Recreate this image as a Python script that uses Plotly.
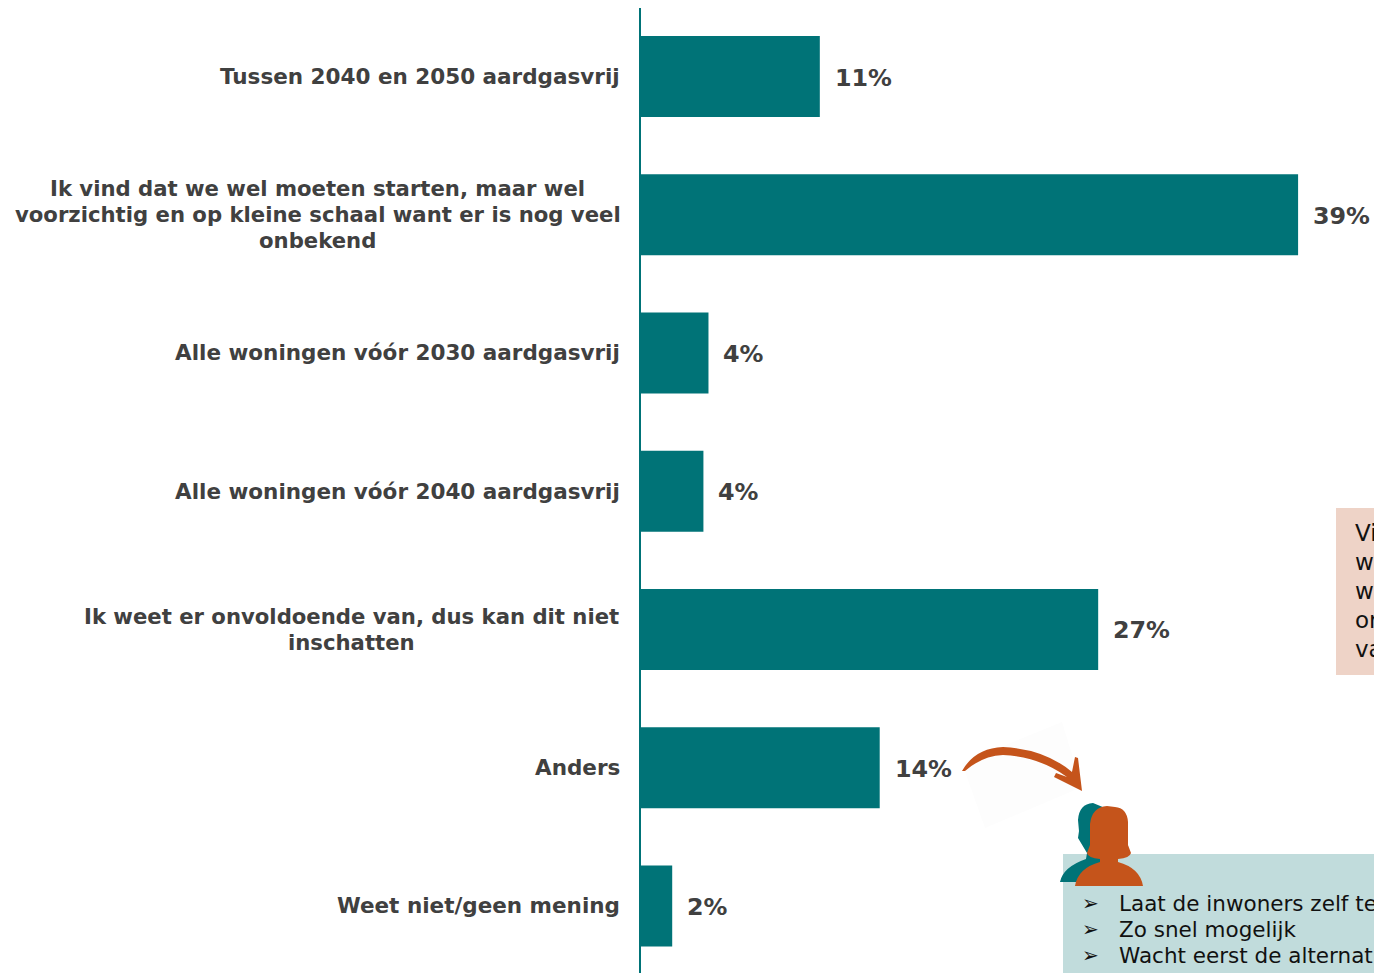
import plotly.graph_objects as go

categories = [
    "Tussen 2040 en 2050 aardgasvrij",
    "Ik vind dat we wel moeten starten, maar wel<br>voorzichtig en op kleine schaal want er is nog veel<br>onbekend",
    "Alle woningen vóór 2030 aardgasvrij",
    "Alle woningen vóór 2040 aardgasvrij",
    "Ik weet er onvoldoende van, dus kan dit niet<br>inschatten",
    "Anders",
    "Weet niet/geen mening",
]
values = [10.6, 38.95, 4.0, 3.7, 27.1, 14.15, 1.85]
value_labels = ["11%", "39%", "4%", "4%", "27%", "14%", "2%"]
pink_lines = ["Vi", "w", "w", "or", "va"]
teal_lines = ["Laat de inwoners zelf te", "Zo snel mogelijk", "Wacht eerst de alternati"]

W, H = 1374, 973
L, T = 641, 8
TEAL, ORANGE, GREY = "#007377", "#C5541B", "#404040"
FONT = "DejaVu Sans"
LABEL_SIZE = 21.5
MULTI_SIZE = 21.2
VALUE_SIZE = 23.8
LINE_GAP = 26
BLOCK_CENTRE = {1: 317.5, 4: 351.5}  # horizontal centre of the wrapped label blocks


def px(x):
    return (x - L) / (W - L)


def py(y):
    return 1 - (y - T) / (H - T)


def path(cmds):
    out = []
    for c in cmds:
        if isinstance(c, str):
            out.append(c)
        else:
            out.append(f"{px(c[0]):.5f},{py(c[1]):.5f}")
    return " ".join(out).replace("M ", "M").replace("L ", "L").replace("Q ", "Q").replace("C ", "C")


fig = go.Figure(go.Bar(
    x=values, y=list(range(len(categories))), orientation="h",
    marker=dict(color=TEAL, line=dict(width=0)), hoverinfo="skip",
))

ann = []
for i, (c, v, lab) in enumerate(zip(categories, values, value_labels)):
    lines = c.split("<br>")
    for j, line in enumerate(lines):
        wrapped = len(lines) > 1
        ann.append(dict(x=0, y=i, xref="x", yref="y", text=f"<b>{line}</b>", showarrow=False,
                        xanchor="center" if wrapped else "right",
                        xshift=(BLOCK_CENTRE[i] - L) if wrapped else -19,
                        yshift=((len(lines) - 1) / 2 - j) * LINE_GAP,
                        font=dict(family=FONT, size=MULTI_SIZE if wrapped else LABEL_SIZE, color=GREY)))
    ann.append(dict(x=v, y=i, xref="x", yref="y", text=f"<b>{lab}</b>", showarrow=False,
                    xanchor="left", xshift=13, yshift=-1,
                    font=dict(family=FONT, size=VALUE_SIZE, color=GREY)))

for t, y in zip(pink_lines, [533, 562, 591, 620, 649]):
    ann.append(dict(x=px(1353), y=py(y), xref="paper", yref="paper", text=t, showarrow=False,
                    xanchor="left", yanchor="middle",
                    font=dict(family=FONT, size=23, color="#111111")))
for t, y in zip(teal_lines, [903, 929, 955]):
    ann.append(dict(x=px(1080), y=py(y), xref="paper", yref="paper", text="➢", showarrow=False,
                    xanchor="left", yanchor="middle",
                    font=dict(family=FONT, size=20, color="#111111")))
    ann.append(dict(x=px(1117), y=py(y), xref="paper", yref="paper", text=t, showarrow=False,
                    xanchor="left", yanchor="middle",
                    font=dict(family=FONT, size=21.5, color="#111111")))

shapes = [
    dict(type="rect", xref="paper", yref="paper", x0=px(1336), x1=px(1380), y0=py(675), y1=py(508),
         fillcolor="#EED3C7", line_width=0, layer="below"),
    dict(type="rect", xref="paper", yref="paper", x0=px(1063), x1=px(1380), y0=py(980), y1=py(854),
         fillcolor="#C1DCDC", line_width=0, layer="below"),
    # faint sheet behind the arrow
    dict(type="path", xref="paper", yref="paper", fillcolor="#FDFDFD", line_width=0, layer="below",
         path=path(["M", (1062, 722), "L", (1082, 787), "L", (985, 828), "L", (962, 763), "Z"])),
    # arrow
    dict(type="path", xref="paper", yref="paper", fillcolor=ORANGE, line_width=0, layer="above",
         path=path(["M", (962, 771), "Q", (975, 748), (1003, 747), "Q", (1045, 749), (1072, 772),
                    "L", (1075, 757), "L", (1078, 758), "L", (1082, 791), "L", (1054, 777), "L", (1056, 773),
                    "L", (1067, 777), "Q", (1040, 757), (1003, 755), "Q", (982, 756), (965, 771), "Z"])),
    # teal person
    dict(type="path", xref="paper", yref="paper", fillcolor=TEAL, line_width=0, layer="above",
         path=path(["M", (1093, 803), "Q", (1079, 804), (1078, 820), "L", (1079, 831), "L", (1078, 838),
                    "L", (1087, 853), "L", (1086, 859), "Q", (1063, 867), (1060, 882),
                    "L", (1110, 882), "L", (1110, 810), "Z"])),
    # orange person
    dict(type="path", xref="paper", yref="paper", fillcolor=ORANGE, line_width=0, layer="above",
         path=path(["M", (1107, 806), "Q", (1092, 807), (1090, 824), "L", (1090, 845), "L", (1087, 853),
                    "Q", (1088, 858), (1100, 859), "L", (1100, 862), "Q", (1078, 868), (1075, 886),
                    "L", (1143, 886), "Q", (1140, 868), (1118, 862), "L", (1118, 859),
                    "Q", (1130, 858), (1131, 853),
                    "L", (1128, 845), "L", (1128, 822), "Q", (1127, 808), (1115, 807), "Z"])),
]

fig.update_layout(
    width=W, height=H, margin=dict(l=L, r=0, t=T, b=0, pad=0), autosize=False,
    paper_bgcolor="white", plot_bgcolor="rgba(0,0,0,0)", showlegend=False, bargap=0.414,
    annotations=ann, shapes=shapes,
    xaxis=dict(range=[0, (W - L) / 16.87], visible=False, fixedrange=True),
    yaxis=dict(range=[6.485, -0.4955], showticklabels=False, ticks="",
               showgrid=False, zeroline=False, showline=True, linecolor=TEAL, linewidth=2,
               fixedrange=True),
)
fig.write_html("out.html", config={"displayModeBar": False},
               post_script="document.body.style.margin='0';document.documentElement.style.overflow='hidden';")
